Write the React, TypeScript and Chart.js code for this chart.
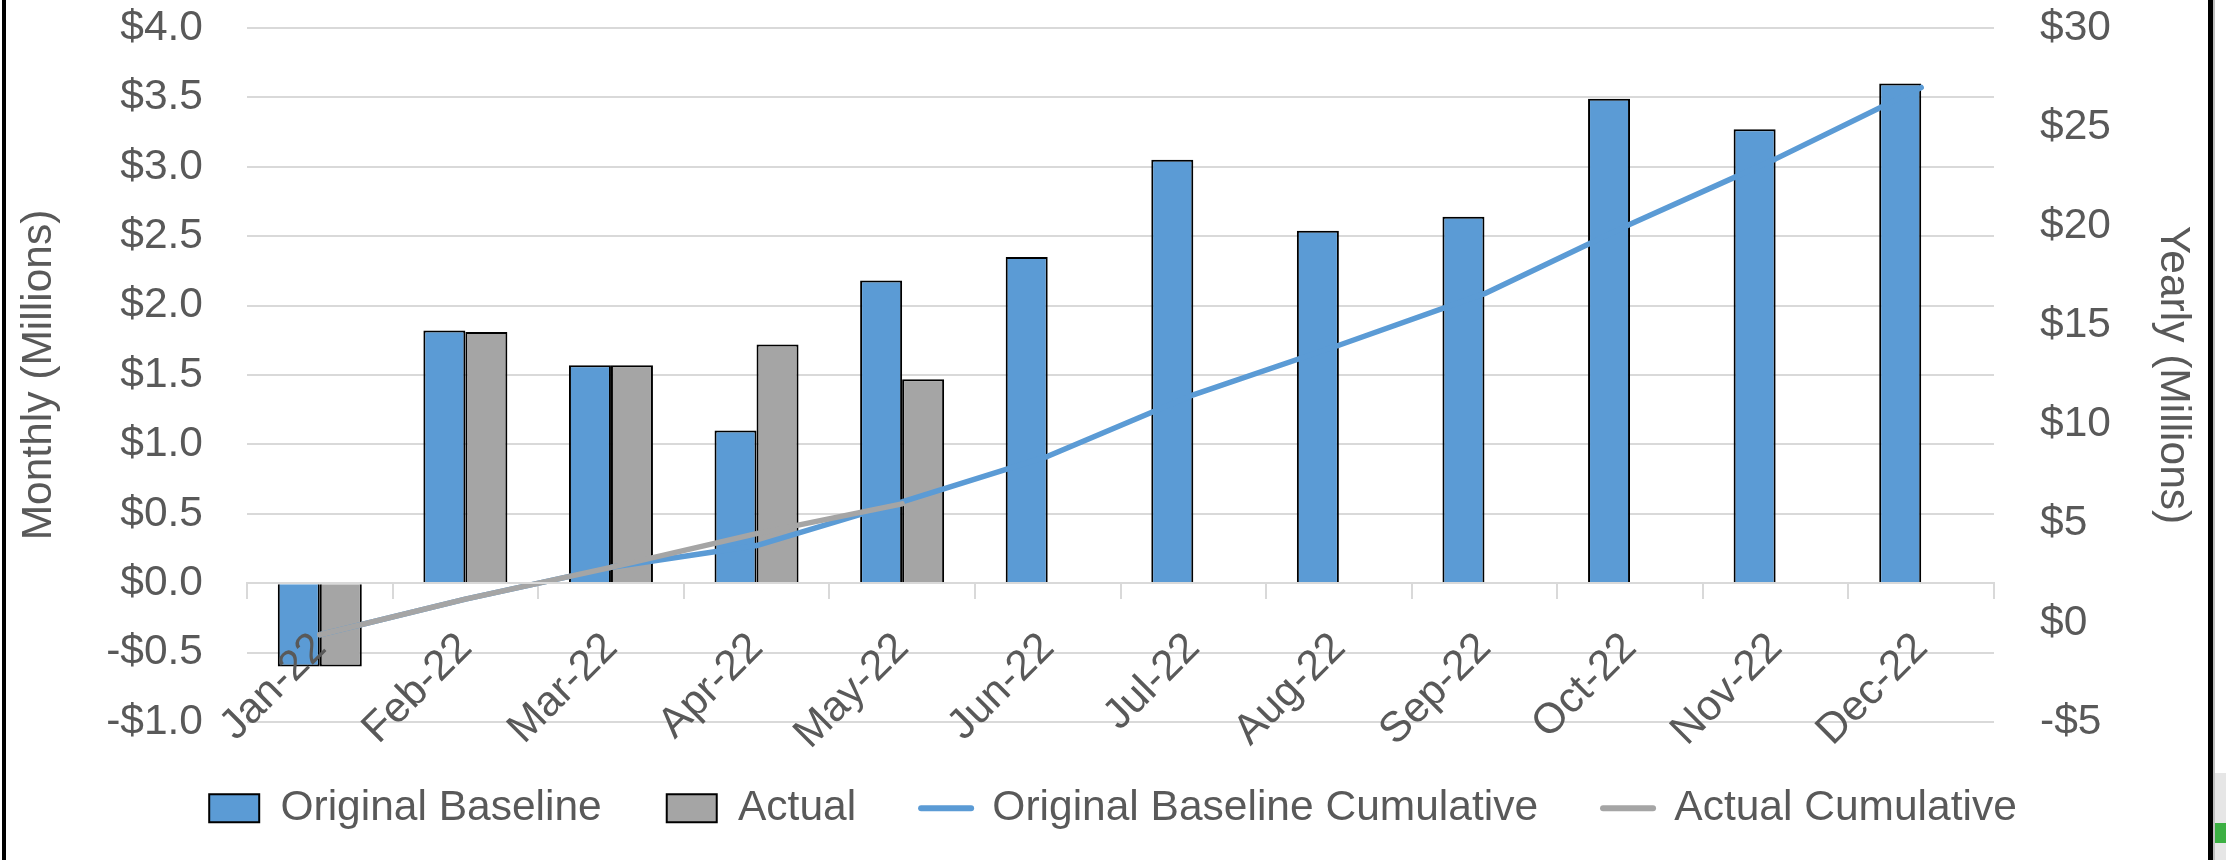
import React, { useEffect, useRef } from 'react';
import { Chart, registerables } from 'chart.js';

Chart.register(...registerables);

const months = ['Jan-22', 'Feb-22', 'Mar-22', 'Apr-22', 'May-22', 'Jun-22', 'Jul-22', 'Aug-22', 'Sep-22', 'Oct-22', 'Nov-22', 'Dec-22'];
const originalBaseline = [-0.6, 1.82, 1.57, 1.1, 2.18, 2.35, 3.05, 2.54, 2.64, 3.49, 3.27, 3.6];
const actual = [-0.6, 1.81, 1.57, 1.72, 1.47, null, null, null, null, null, null, null];
const originalBaselineCumulative = [-0.6, 1.2, 2.8, 3.9, 6.1, 8.4, 11.5, 14.0, 16.6, 20.1, 23.4, 27.0];
const actualCumulative = [-0.6, 1.2, 2.8, 4.5, 6.0, null, null, null, null, null, null, null];

const seriesNames = ['Original Baseline', 'Actual', 'Original Baseline Cumulative', 'Actual Cumulative'];
const axisTitles = ['Monthly (Millions)', 'Yearly (Millions)'];

const BLUE = '#5b9bd5';
const GRAY = '#a5a5a5';
const TEXT = '#595959';
const GRID = '#d9d9d9';
const FONT = { family: "'Liberation Sans', Arial, sans-serif", size: 42.5 };

const W = 2226;
const H = 860;

function money(v: number, digits: number) {
  const s = Math.abs(v).toFixed(digits);
  return (v < 0 ? '-$' : '$') + s;
}

export default function App() {
  const ref = useRef<HTMLCanvasElement | null>(null);

  useEffect(() => {
    if (!ref.current) return;
    const chart = new Chart(ref.current, {
      type: 'bar',
      data: {
        labels: months,
        datasets: [
          {
            type: 'bar',
            label: seriesNames[0],
            data: originalBaseline,
            backgroundColor: BLUE,
            borderColor: '#000',
            borderWidth: 2,
            yAxisID: 'y',
            order: 2,
            categoryPercentage: 0.577,
            barPercentage: 1,
          },
          {
            type: 'bar',
            label: seriesNames[1],
            data: actual,
            backgroundColor: GRAY,
            borderColor: '#000',
            borderWidth: 2,
            yAxisID: 'y',
            order: 3,
            categoryPercentage: 0.577,
            barPercentage: 1,
          },
          {
            type: 'line',
            label: seriesNames[2],
            data: originalBaselineCumulative,
            borderColor: BLUE,
            backgroundColor: BLUE,
            borderWidth: 5.5,
            pointRadius: 0,
            tension: 0,
            borderCapStyle: 'round',
            borderJoinStyle: 'round',
            yAxisID: 'y1',
            order: 1,
          },
          {
            type: 'line',
            label: seriesNames[3],
            data: actualCumulative,
            borderColor: GRAY,
            backgroundColor: GRAY,
            borderWidth: 5.5,
            pointRadius: 0,
            tension: 0,
            borderCapStyle: 'round',
            borderJoinStyle: 'round',
            yAxisID: 'y1',
            order: 0,
          },
        ] as any,
      },
      options: {
        animation: false,
        responsive: false,
        devicePixelRatio: 1,
        layout: { padding: { top: 28, bottom: 20.5, left: 0, right: 0 } },
        scales: {
          x: {
            position: { y: 0 } as any,
            offset: true,
            grid: {
              offset: true,
              drawOnChartArea: false,
              drawTicks: true,
              tickLength: 15,
              color: GRID,
              lineWidth: 2,
            },
            border: { display: true, color: GRID, width: 2, z: 1 },
            ticks: {
              autoSkip: false,
              minRotation: 45,
              maxRotation: 45,
              padding: 25,
              color: TEXT,
              font: FONT,
              z: 1,
            },
          },
          y: {
            position: 'left',
            min: -1,
            max: 4,
            ticks: {
              stepSize: 0.5,
              padding: 44,
              color: TEXT,
              font: FONT,
              callback: (v: any) => money(Number(v), 1),
            },
            grid: { color: GRID, lineWidth: 2, drawTicks: false },
            border: { display: false },
            title: {
              display: true,
              text: axisTitles[0],
              color: TEXT,
              font: FONT,
              padding: { top: 14, bottom: 0 },
            },
            afterFit: (s: any) => {
              s.width = 247;
              s.paddingTop = 0;
              s.paddingBottom = 0;
            },
          },
          y1: {
            position: 'right',
            min: -5,
            max: 30,
            ticks: {
              stepSize: 5,
              padding: 46,
              color: TEXT,
              font: FONT,
              callback: (v: any) => money(Number(v), 0),
            },
            grid: { drawOnChartArea: false, drawTicks: false },
            border: { display: false },
            title: {
              display: true,
              text: axisTitles[1],
              color: TEXT,
              font: FONT,
              padding: { top: 27.5, bottom: 0 },
            },
            afterFit: (s: any) => {
              s.width = 232;
              s.paddingTop = 0;
              s.paddingBottom = 0;
            },
          },
        } as any,
        plugins: {
          legend: {
            position: 'bottom',
            onClick: () => {},
            labels: {
              usePointStyle: true,
              pointStyleWidth: 50,
              boxHeight: 28,
              padding: 65,
              color: TEXT,
              font: FONT,
              sort: (a: any, b: any) => a.datasetIndex - b.datasetIndex,
              generateLabels: (c: any) => {
                const items = (Chart.defaults.plugins.legend.labels as any).generateLabels(c);
                return items.map((it: any) => {
                  const ds: any = c.data.datasets[it.datasetIndex];
                  if (ds.type === 'line') {
                    return { ...it, pointStyle: 'line', lineWidth: 6, strokeStyle: ds.borderColor, fillStyle: ds.borderColor, lineCap: 'round' };
                  }
                  return { ...it, pointStyle: 'rect', lineWidth: 2, strokeStyle: '#000', fillStyle: ds.backgroundColor };
                });
              },
            },
          },
          tooltip: { enabled: false },
        },
      } as any,
    });
    return () => chart.destroy();
  }, []);

  return (
    <div style={{ position: 'absolute', left: 0, top: 0, width: W, height: H, background: '#fff', overflow: 'hidden' }}>
      <canvas ref={ref} width={W} height={H} style={{ position: 'absolute', left: 0, top: 0, width: W, height: H }} />
      <div style={{ position: 'absolute', left: 2, top: 0, width: 4, height: H, background: '#000' }} />
      <div style={{ position: 'absolute', left: 2208, top: 0, width: 5, height: H, background: '#000' }} />
      <div style={{ position: 'absolute', left: 2213, top: 0, width: 2, height: H, background: '#bfbfbf' }} />
      <div style={{ position: 'absolute', left: 2215, top: 773, width: 11, height: 87, background: '#e6e6e6' }} />
      <div style={{ position: 'absolute', left: 2215, top: 823, width: 11, height: 20, background: '#3cb043' }} />
    </div>
  );
}
